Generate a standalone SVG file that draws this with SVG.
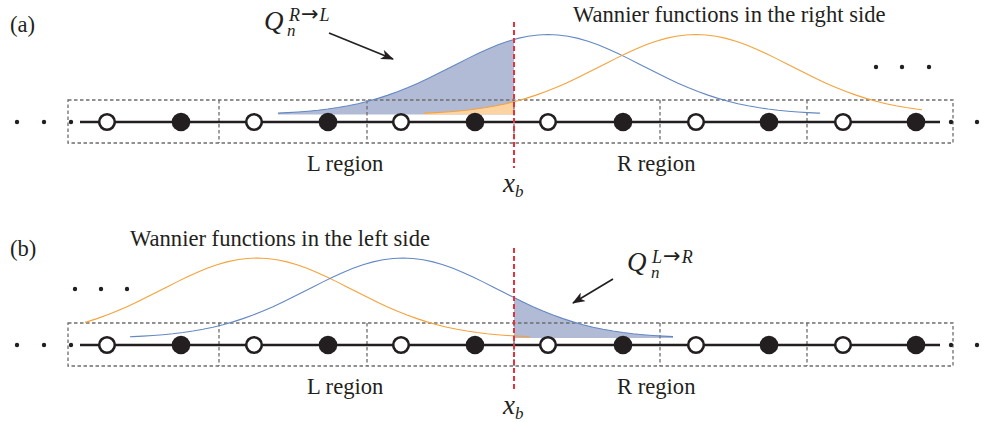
<svg xmlns="http://www.w3.org/2000/svg" xmlns:xlink="http://www.w3.org/1999/xlink" width="998" height="422" viewBox="0 0 998 422">
<style>
.t{font-family:"Liberation Serif","Times New Roman",serif;font-size:22.6px;fill:#231f20}
.m{font-family:"Liberation Serif","Times New Roman",serif;font-style:italic;font-size:27px;fill:#231f20}
.ss{font-size:17px}
.sup{font-size:18px}
.ar{font-family:"DejaVu Sans",sans-serif;font-style:normal;font-size:21px}
.box{fill:none;stroke:#6d6d6d;stroke-width:1.3;stroke-dasharray:3.5,2.5}
.chain{stroke:#231f20;stroke-width:2.6}
.open{fill:#fff;stroke:#231f20;stroke-width:2.6}
.full{fill:#231f20}
.dot{fill:#231f20}
.xb{stroke:#e8303a;stroke-width:2;stroke-dasharray:5,3}
.bc{fill:none;stroke:#6388c4;stroke-width:1.1}
.oc{fill:none;stroke:#f5a23c;stroke-width:1.1}
.bf{fill:#b2bbd5;stroke:none}
.of{fill:#fdd3a2;stroke:none}
.arr{stroke:#231f20;stroke-width:1.6;marker-end:url(#ah)}
</style>
<defs>
<path id="gauss" d="M-280,0 L-280,-1.04 L-270,-1.41 L-260,-1.89 L-250,-2.51 L-240,-3.29 L-230,-4.27 L-220,-5.48 L-210,-6.95 L-200,-8.72 L-190,-10.83 L-180,-13.29 L-170,-16.13 L-160,-19.37 L-150,-23 L-140,-27.01 L-130,-31.37 L-120,-36.03 L-110,-40.92 L-100,-45.97 L-90,-51.07 L-80,-56.12 L-70,-60.98 L-60,-65.53 L-50,-69.65 L-40,-73.21 L-30,-76.11 L-20,-78.25 L-10,-79.56 L0,-80 L10,-79.56 L20,-78.25 L30,-76.11 L40,-73.21 L50,-69.65 L60,-65.53 L70,-60.98 L80,-56.12 L90,-51.07 L100,-45.97 L110,-40.92 L120,-36.03 L130,-31.37 L140,-27.01 L150,-23 L160,-19.37 L170,-16.13 L180,-13.29 L190,-10.83 L200,-8.72 L210,-6.95 L220,-5.48 L230,-4.27 L240,-3.29 L250,-2.51 L260,-1.89 L270,-1.41 L280,-1.04 L280,0"/>
<circle id="os" r="7.8" class="open"/>
<circle id="fs" r="9.3" class="full"/>
<marker id="ah" viewBox="0 0 13 10" refX="12" refY="5" markerWidth="13" markerHeight="10" markerUnits="userSpaceOnUse" orient="auto"><path d="M0,0 L13,5 L0,10 L3.5,5 Z" fill="#231f20"/></marker>
<clipPath id="cBA" clipPathUnits="userSpaceOnUse"><rect x="278" y="0" width="542" height="200"/></clipPath>
<clipPath id="cOA" clipPathUnits="userSpaceOnUse"><rect x="424" y="0" width="498" height="200"/></clipPath>
<clipPath id="cBSA" clipPathUnits="userSpaceOnUse"><rect x="278" y="0" width="236" height="200"/></clipPath>
<clipPath id="cOSA" clipPathUnits="userSpaceOnUse"><rect x="424" y="0" width="90" height="200"/></clipPath>
<clipPath id="cBB" clipPathUnits="userSpaceOnUse"><rect x="130" y="220" width="543" height="200"/></clipPath>
<clipPath id="cOB" clipPathUnits="userSpaceOnUse"><rect x="85" y="220" width="445" height="200"/></clipPath>
<clipPath id="cBSB" clipPathUnits="userSpaceOnUse"><rect x="514" y="220" width="159" height="200"/></clipPath>
</defs>

<g id="panel-a">
  <text class="t" x="10" y="32">(a)</text>
  <g id="a-shading">
    <g clip-path="url(#cBSA)"><use xlink:href="#gauss" class="bf" transform="translate(548,114.5)"/></g>
    <g clip-path="url(#cOSA)"><use xlink:href="#gauss" class="of" transform="translate(696,114.5)"/></g>
  </g>
  <g id="a-boxes">
    <rect class="box" x="68" y="100" width="885" height="43"/>
    <path class="box" d="M219,100V143M367,100V143M514,100V143M660,100V143M807,100V143"/>
  </g>
  <g id="a-wannier">
    <g clip-path="url(#cBA)"><use xlink:href="#gauss" class="bc" transform="translate(548,114.5)"/></g>
    <g clip-path="url(#cOA)"><use xlink:href="#gauss" class="oc" transform="translate(696,114.5)"/></g>
  </g>
  <g id="a-chain">
    <line class="chain" x1="80" y1="122" x2="940" y2="122"/>
    <use xlink:href="#os" x="107" y="122"/><use xlink:href="#fs" x="181" y="122"/>
    <use xlink:href="#os" x="254" y="122"/><use xlink:href="#fs" x="328" y="122"/>
    <use xlink:href="#os" x="401" y="122"/><use xlink:href="#fs" x="475" y="122"/>
    <use xlink:href="#os" x="548" y="122"/><use xlink:href="#fs" x="623" y="122"/>
    <use xlink:href="#os" x="696" y="122"/><use xlink:href="#fs" x="769" y="122"/>
    <use xlink:href="#os" x="843" y="122"/><use xlink:href="#fs" x="916" y="122"/>
  </g>
  <g id="a-dots">
    <circle class="dot" cx="17" cy="122" r="2.2"/><circle class="dot" cx="44" cy="122" r="2.2"/><circle class="dot" cx="71" cy="122" r="2.2"/>
    <circle class="dot" cx="951" cy="122" r="2.2"/><circle class="dot" cx="977" cy="122" r="2.2"/>
    <circle class="dot" cx="876" cy="67" r="2.2"/><circle class="dot" cx="902" cy="67" r="2.2"/><circle class="dot" cx="929" cy="67" r="2.2"/>
  </g>
  <line class="xb" x1="514" y1="22" x2="514" y2="168"/>
  <line class="arr" x1="329" y1="33" x2="393" y2="59"/>
  <g id="a-labels">
    <text class="t" x="573" y="22">Wannier functions in the right side</text>
    <text class="t" x="307" y="171">L region</text>
    <text class="t" x="617" y="171">R region</text>
    <text class="m" x="503" y="192">x<tspan class="ss" dy="5">b</tspan></text>
    <text class="m" x="264" y="30">Q<tspan class="sup" x="289" dy="-9">R</tspan><tspan class="ar" dx="1">→</tspan><tspan class="sup" dx="1">L</tspan><tspan class="ss" x="287" dy="15">n</tspan></text>
  </g>
</g>

<g id="panel-b">
  <text class="t" x="10" y="256">(b)</text>
  <g id="b-shading">
    <g clip-path="url(#cBSB)"><use xlink:href="#gauss" class="bf" transform="translate(403,338)"/></g>
  </g>
  <g id="b-boxes">
    <rect class="box" x="68" y="323" width="885" height="43"/>
    <path class="box" d="M219,323V366M367,323V366M514,323V366M660,323V366M807,323V366"/>
  </g>
  <g id="b-wannier">
    <g clip-path="url(#cOB)"><use xlink:href="#gauss" class="oc" transform="translate(257,338)"/></g>
    <g clip-path="url(#cBB)"><use xlink:href="#gauss" class="bc" transform="translate(403,338)"/></g>
  </g>
  <g id="b-chain">
    <line class="chain" x1="80" y1="345" x2="940" y2="345"/>
    <use xlink:href="#os" x="107" y="345"/><use xlink:href="#fs" x="181" y="345"/>
    <use xlink:href="#os" x="254" y="345"/><use xlink:href="#fs" x="328" y="345"/>
    <use xlink:href="#os" x="401" y="345"/><use xlink:href="#fs" x="475" y="345"/>
    <use xlink:href="#os" x="548" y="345"/><use xlink:href="#fs" x="623" y="345"/>
    <use xlink:href="#os" x="696" y="345"/><use xlink:href="#fs" x="769" y="345"/>
    <use xlink:href="#os" x="843" y="345"/><use xlink:href="#fs" x="916" y="345"/>
  </g>
  <g id="b-dots">
    <circle class="dot" cx="17" cy="345" r="2.2"/><circle class="dot" cx="44" cy="345" r="2.2"/><circle class="dot" cx="71" cy="345" r="2.2"/>
    <circle class="dot" cx="951" cy="345" r="2.2"/><circle class="dot" cx="977" cy="345" r="2.2"/>
    <circle class="dot" cx="75" cy="289" r="2.2"/><circle class="dot" cx="101" cy="289" r="2.2"/><circle class="dot" cx="127" cy="289" r="2.2"/>
  </g>
  <line class="xb" x1="514" y1="248" x2="514" y2="389"/>
  <line class="arr" x1="613" y1="279" x2="573" y2="303"/>
  <g id="b-labels">
    <text class="t" x="130" y="246">Wannier functions in the left side</text>
    <text class="t" x="307" y="394">L region</text>
    <text class="t" x="617" y="394">R region</text>
    <text class="m" x="503" y="414">x<tspan class="ss" dy="5">b</tspan></text>
    <text class="m" x="627" y="271">Q<tspan class="sup" x="652" dy="-8">L</tspan><tspan class="ar" dx="1">→</tspan><tspan class="sup" dx="1">R</tspan><tspan class="ss" x="651" dy="15">n</tspan></text>
  </g>
</g>
</svg>
